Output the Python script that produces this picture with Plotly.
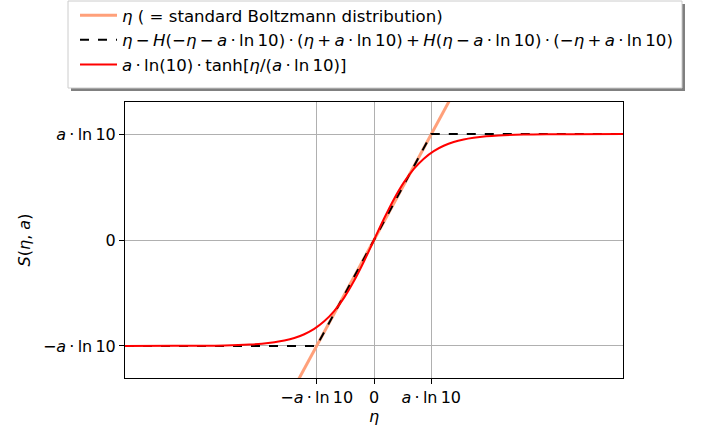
import plotly.graph_objects as go

A_LN10 = 2.302585  # a * ln 10 with a = 1

# Boltzmann line (eta = S)
eta_line = [-10.0, 10.0]
s_line = [-10.0, 10.0]

# Piecewise (Heaviside) approximation
eta_pw = [-10.0, -A_LN10, A_LN10, 10.0]
s_pw = [-A_LN10, -A_LN10, A_LN10, A_LN10]

# Smooth tanh-like curve
eta_tanh = [-10.0, -8.0, -7.0, -6.0, -5.0, -4.5, -4.0, -3.6, -3.2, -2.8, -2.4, -2.0, -1.6, -1.2, -0.8, -0.4, 0.0,
            0.4, 0.8, 1.2, 1.6, 2.0, 2.4, 2.8, 3.2, 3.6, 4.0, 4.5, 5.0, 6.0, 7.0, 8.0, 10.0]
s_tanh = [-2.302, -2.301, -2.299, -2.292, -2.274, -2.256, -2.224, -2.187, -2.132, -2.049, -1.933, -1.769, -1.546,
          -1.252, -0.887, -0.461, 0.0,
          0.461, 0.887, 1.252, 1.546, 1.769, 1.933, 2.049, 2.132, 2.187, 2.224, 2.256, 2.274, 2.292, 2.299, 2.301, 2.302]

S = "\u2009"  # thin space (math operator spacing)
LN10 = "ln" + S + "10"
tick_vals = [-A_LN10, 0.0, A_LN10]
tick_text = ["\u2212<i>a</i>" + S + "\u00b7" + S + LN10, "0", "<i>a</i>" + S + "\u00b7" + S + LN10]

FONT = "DejaVu Sans"
FS = 16
FS_LEG = 16.6


def op(sym):
    return S + sym + S


ETA = "<i>\u03b7</i>"
AA = "<i>a</i>"
name1 = ETA + " ( = standard Boltzmann distribution)"
name2 = (ETA + op("\u2212") + "<i>H</i>(\u2212" + ETA + op("\u2212") + AA + op("\u00b7") + LN10 + ")"
         + op("\u00b7") + "(" + ETA + op("+") + AA + op("\u00b7") + LN10 + ")" + op("+")
         + "<i>H</i>(" + ETA + op("\u2212") + AA + op("\u00b7") + LN10 + ")" + op("\u00b7")
         + "(\u2212" + ETA + op("+") + AA + op("\u00b7") + LN10 + ")")
name3 = AA + op("\u00b7") + "ln(10)" + op("\u00b7") + "tanh[" + ETA + "/(" + AA + op("\u00b7") + LN10 + ")]"

fig = go.Figure()
fig.add_trace(go.Scatter(
    x=eta_line, y=s_line, mode="lines",
    line=dict(color="#FFA07A", width=3),
    name=name1, legendgroup="g1"))
fig.add_trace(go.Scatter(
    x=eta_pw, y=s_pw, mode="lines",
    line=dict(color="black", width=2, dash="dash"),
    name=name2, legendgroup="g2"))
fig.add_trace(go.Scatter(
    x=eta_tanh, y=s_tanh, mode="lines",
    line=dict(color="#ff0000", width=2, shape="spline", smoothing=1.0),
    name=name3, legendgroup="g3"))

# plot area pixels
L, R, T, B = 125, 623, 102, 378
W, H = 701, 432
pw, ph = R - L, B - T


def px(x):
    return (x - L) / pw


def py(y):
    return (B - y) / ph


box_l, box_r, box_t, box_b = 68, 682, 1, 88
fig.add_shape(type="rect", xref="paper", yref="paper",
              x0=px(box_l + 3), x1=px(box_r + 3), y0=py(box_b + 3), y1=py(box_t + 3),
              fillcolor="#808080", line=dict(width=0), layer="above")
fig.add_shape(type="rect", xref="paper", yref="paper",
              x0=px(box_l), x1=px(box_r), y0=py(box_b), y1=py(box_t),
              fillcolor="white", line=dict(color="#cccccc", width=1), layer="above")

axis_common = dict(
    showline=True, mirror=True, linecolor="black", linewidth=1,
    ticks="outside", ticklen=5, tickcolor="black", tickwidth=1,
    showgrid=True, gridcolor="#b0b0b0", gridwidth=1, zeroline=False,
    tickmode="array", tickvals=tick_vals, ticktext=tick_text,
    tickfont=dict(family=FONT, size=FS, color="black"),
    automargin=False,
)

fig.update_layout(
    width=W, height=H,
    margin=dict(l=L, r=W - R, t=T, b=H - B, autoexpand=False),
    paper_bgcolor="white", plot_bgcolor="white",
    font=dict(family=FONT, size=FS, color="black"),
    xaxis=dict(range=[-10, 10], title=dict(text=ETA, font=dict(size=FS), standoff=2), **axis_common),
    yaxis=dict(range=[-3, 3], title=dict(text="<i>S</i>(" + ETA + ", " + AA + ")", font=dict(size=FS), standoff=8),
               **axis_common),
    showlegend=True,
    legend=dict(x=px(box_l + 7), y=py(box_t - 3), xanchor="left", yanchor="top",
                bgcolor="rgba(0,0,0,0)", borderwidth=0,
                font=dict(family=FONT, size=FS_LEG, color="black"),
                tracegroupgap=0, itemwidth=37),
)

fig.write_html("out.html", config={"displayModeBar": False},
               post_script="document.body.style.margin='0px';")
